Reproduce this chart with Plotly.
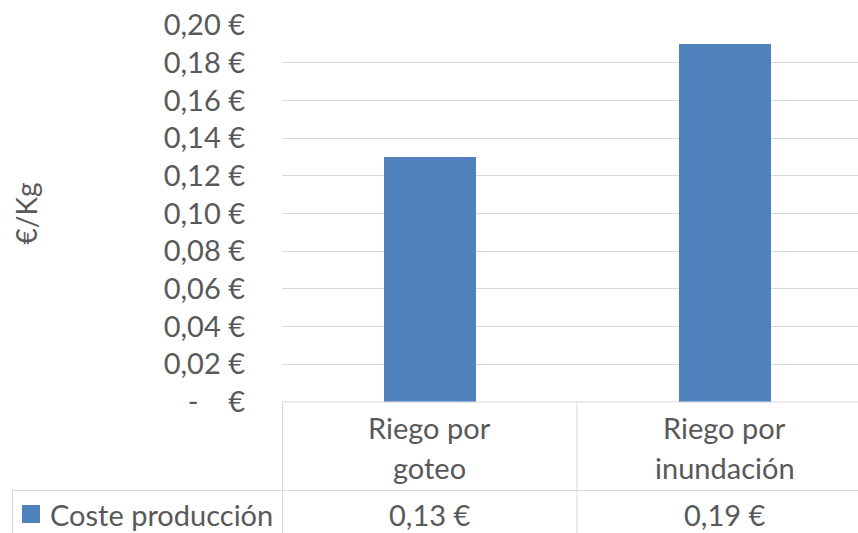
import plotly.graph_objects as go

# Data
categories = ["Riego por\ngoteo", "Riego por\ninundación"]
series_name = "Coste producción"
values = [0.13, 0.19]
y_tick_values = [0.00, 0.02, 0.04, 0.06, 0.08, 0.10, 0.12, 0.14, 0.16, 0.18, 0.20]
y_tick_labels = ["-\u00a0\u00a0\u00a0\u00a0€", "0,02 €", "0,04 €", "0,06 €", "0,08 €", "0,10 €",
                 "0,12 €", "0,14 €", "0,16 €", "0,18 €", "0,20 €"]
y_title = "€/Kg"

# Layout geometry (pixels)
W, H = 858, 533
ML, MR, MT, MB = 282, 0, 25, 131
PW, PH = W - ML - MR, H - MT - MB
CAT_PX = 295  # width of one category column
BAR_PX = 92

FONT = "Lato, Calibri, Carlito, sans-serif"
TXT = "#595959"
GRID = "#d9d9d9"
BAR = "#4f81bd"
FS = 29


def px_x(p):
    return (p - ML) / PW


def px_y(p):
    return (H - MB - p) / PH


def fmt_eur(v):
    return f"{v:.2f}".replace(".", ",") + " €"


xs = list(range(len(categories)))

fig = go.Figure()
fig.add_trace(go.Bar(
    x=xs, y=values, name=series_name,
    marker=dict(color=BAR, line=dict(width=0)),
    width=BAR_PX / CAT_PX,
    showlegend=False,
))

shapes = []
line = dict(color=GRID, width=1)
# table grid
shapes.append(dict(type="line", xref="paper", yref="paper",
                   x0=px_x(ML), x1=px_x(W), y0=px_y(402), y1=px_y(402), line=line))
shapes.append(dict(type="line", xref="paper", yref="paper",
                   x0=px_x(12), x1=px_x(W), y0=px_y(490.5), y1=px_y(490.5), line=line))
shapes.append(dict(type="line", xref="paper", yref="paper",
                   x0=px_x(12.5), x1=px_x(12.5), y0=px_y(490.5), y1=px_y(H), line=line))
shapes.append(dict(type="line", xref="paper", yref="paper",
                   x0=px_x(ML + 0.5), x1=px_x(ML + 0.5), y0=px_y(402), y1=px_y(H), line=line))
for i in range(len(categories) - 1):
    shapes.append(dict(type="line", xref="x", yref="paper",
                       x0=i + 0.5, x1=i + 0.5, y0=px_y(402), y1=px_y(H), line=line))
# legend key in the table
shapes.append(dict(type="rect", xref="paper", yref="paper",
                   x0=px_x(22), x1=px_x(40), y0=px_y(505), y1=px_y(523),
                   fillcolor=BAR, line=dict(width=0)))

annotations = []
font = dict(family=FONT, size=FS, color=TXT)
for i, cat in enumerate(categories):
    for j, part in enumerate(cat.split("\n")):
        annotations.append(dict(x=i, xref="x", y=px_y(427 + 40 * j), yref="paper",
                                text=part, showarrow=False, font=font,
                                xanchor="center", yanchor="middle"))
    annotations.append(dict(x=i, xref="x", y=px_y(514), yref="paper",
                            text=fmt_eur(values[i]), showarrow=False, font=font,
                            xanchor="center", yanchor="middle"))
annotations.append(dict(x=px_x(48), xref="paper", y=px_y(514), yref="paper",
                        text=series_name, showarrow=False, font=font,
                        xanchor="left", yanchor="middle"))
annotations.append(dict(x=px_x(25), xref="paper", y=px_y((MT + H - MB) / 2), yref="paper",
                        text=y_title, showarrow=False, font=dict(family=FONT, size=28, color=TXT),
                        textangle=-90, xanchor="center", yanchor="middle"))

fig.update_layout(
    width=W, height=H,
    margin=dict(l=ML, r=MR, t=MT, b=MB, pad=0),
    paper_bgcolor="white", plot_bgcolor="white",
    font=dict(family=FONT, size=FS, color=TXT),
    bargap=0,
    shapes=shapes,
    annotations=annotations,
    xaxis=dict(range=[-0.5, -0.5 + PW / CAT_PX], showticklabels=False, showgrid=False,
               zeroline=False, showline=False, fixedrange=True),
    yaxis=dict(range=[0, 0.20], tickvals=y_tick_values, ticktext=y_tick_labels,
               showgrid=True, gridcolor=GRID, gridwidth=1, zeroline=False, showline=False,
               ticks="", ticklabelstandoff=36, tickfont=dict(family=FONT, size=FS, color=TXT),
               fixedrange=True),
)

fig.write_html("out.html")
